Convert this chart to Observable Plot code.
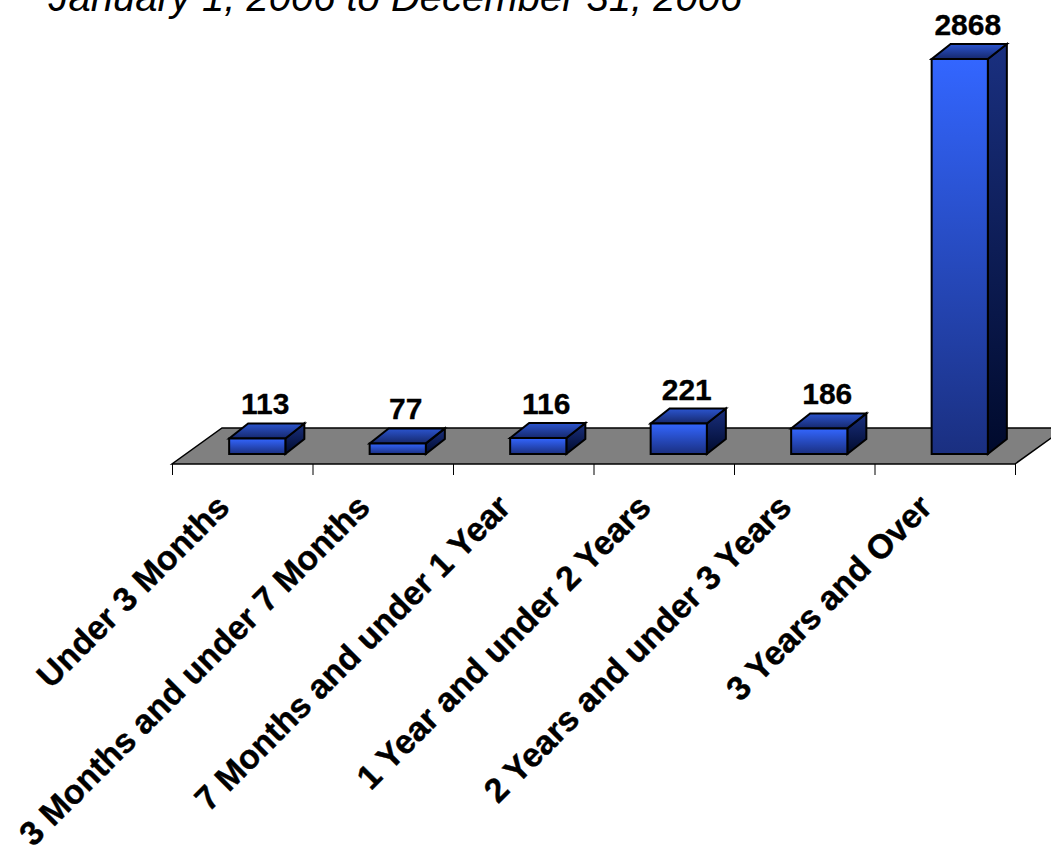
<!DOCTYPE html>
<html>
<head>
<meta charset="utf-8">
<script src="https://cdn.jsdelivr.net/npm/d3@7"></script>
<script src="https://cdn.jsdelivr.net/npm/@observablehq/plot@0.6"></script>
<style>
html,body{margin:0;padding:0;background:#fff;overflow:hidden}
svg{display:block;overflow:hidden}
</style>
</head>
<body>
<div id="chart"></div>
<script>
const categories = ["Under 3 Months","3 Months and under 7 Months","7 Months and under 1 Year","1 Year and under 2 Years","2 Years and under 3 Years","3 Years and Over"];
const values = [113,77,116,221,186,2868];
const subtitle = "January 1, 2006 to December 31, 2006";
const table = categories.map((c,i)=>({c,i,v:values[i]}));
const FONT = "'Liberation Sans',Arial,sans-serif";

function grad(defs,id,stops){
  const g = defs.append("linearGradient").attr("id",id).attr("x1",0).attr("y1",0).attr("x2",0).attr("y2",1);
  stops.forEach(([o,c])=>g.append("stop").attr("offset",o).attr("stop-color",c));
}
const poly = pts => pts.map(p=>p.join(",")).join(" ");

function floorRender(index,scales,vals,dim){
  const g = d3.create("svg:g");
  const x1=vals.x1[0], x2=vals.x2[0], y=dim.height-dim.marginBottom, dx=50, dy=-36;
  g.append("polygon").attr("points",poly([[x1,y],[x2,y],[x2+dx,y+dy],[x1+dx,y+dy]]))
    .attr("fill","#808080").attr("stroke","#000").attr("stroke-width",1.5);
  return g.node();
}
function barRender(index,scales,vals){
  const g = d3.create("svg:g");
  const defs = g.append("defs");
  grad(defs,"fF",[[0,"#3366ff"],[1,"#1a2f80"]]);
  grad(defs,"fS",[[0,"#1a3080"],[1,"#000a2c"]]);
  grad(defs,"fT",[[0,"#2b55d0"],[1,"#16286c"]]);
  const ox=15, dx=19, dy=-15;
  for(const i of index){
    const a=vals.x1[i]+ox, b=vals.x2[i]+ox, t=vals.y2[i], z=vals.y1[i];
    const top=Math.min(t,z), bot=Math.max(t,z);
    const face=(pts,fill)=>g.append("polygon").attr("points",poly(pts)).attr("fill",fill)
      .attr("stroke","#000").attr("stroke-width",2).attr("stroke-linejoin","miter");
    face([[b,bot],[b+dx,bot+dy],[b+dx,top+dy],[b,top]],"url(#fS)");
    face([[a,top],[b,top],[b+dx,top+dy],[a+dx,top+dy]],"url(#fT)");
    face([[a,top],[b,top],[b,bot],[a,bot]],"url(#fF)");
  }
  return g.node();
}

const chart = Plot.plot({
  width:1051, height:850,
  marginTop:59, marginBottom:386, marginLeft:172, marginRight:36,
  style:{fontFamily:FONT,background:"#fff"},
  x:{type:"linear",domain:[0,6],range:[172,1015],axis:null},
  y:{type:"linear",domain:[0,2868],range:[454,59],axis:null},
  marks:[
    Plot.rect([0],{x1:()=>0,x2:()=>6,y1:()=>0,y2:()=>0,render:floorRender}),
    Plot.axisX({ticks:d3.range(7),tickSize:11,tickFormat:()=>"",stroke:"#000",strokeWidth:1,label:null,anchor:"bottom"}),
    Plot.rect(table,{x1:d=>d.i+0.3,x2:d=>d.i+0.7,y1:()=>0,y2:"v",render:barRender}),
    Plot.text(table,{x:d=>d.i+0.5,y:"v",text:d=>String(d.v),dx:22.5,dy:-24.5,textAnchor:"middle",lineAnchor:"bottom",fontSize:30,fontWeight:"bold",fill:"#000",stroke:"#000",strokeWidth:0.3}),
    Plot.text(table,{x:d=>d.i+0.5,y:()=>0,text:"c",rotate:-45,textAnchor:"end",lineAnchor:"middle",dx:-19,dy:47,fontSize:33.8,fontWeight:"bold",fill:"#000",stroke:"#000",strokeWidth:0.4}),
    Plot.text([subtitle],{frameAnchor:"top-left",text:d=>d,dx:-124,dy:-77,textAnchor:"start",lineAnchor:"top",fontSize:40,fontStyle:"italic",fill:"#000"})
  ]
});
document.getElementById("chart").append(chart);
</script>
</body>
</html>
